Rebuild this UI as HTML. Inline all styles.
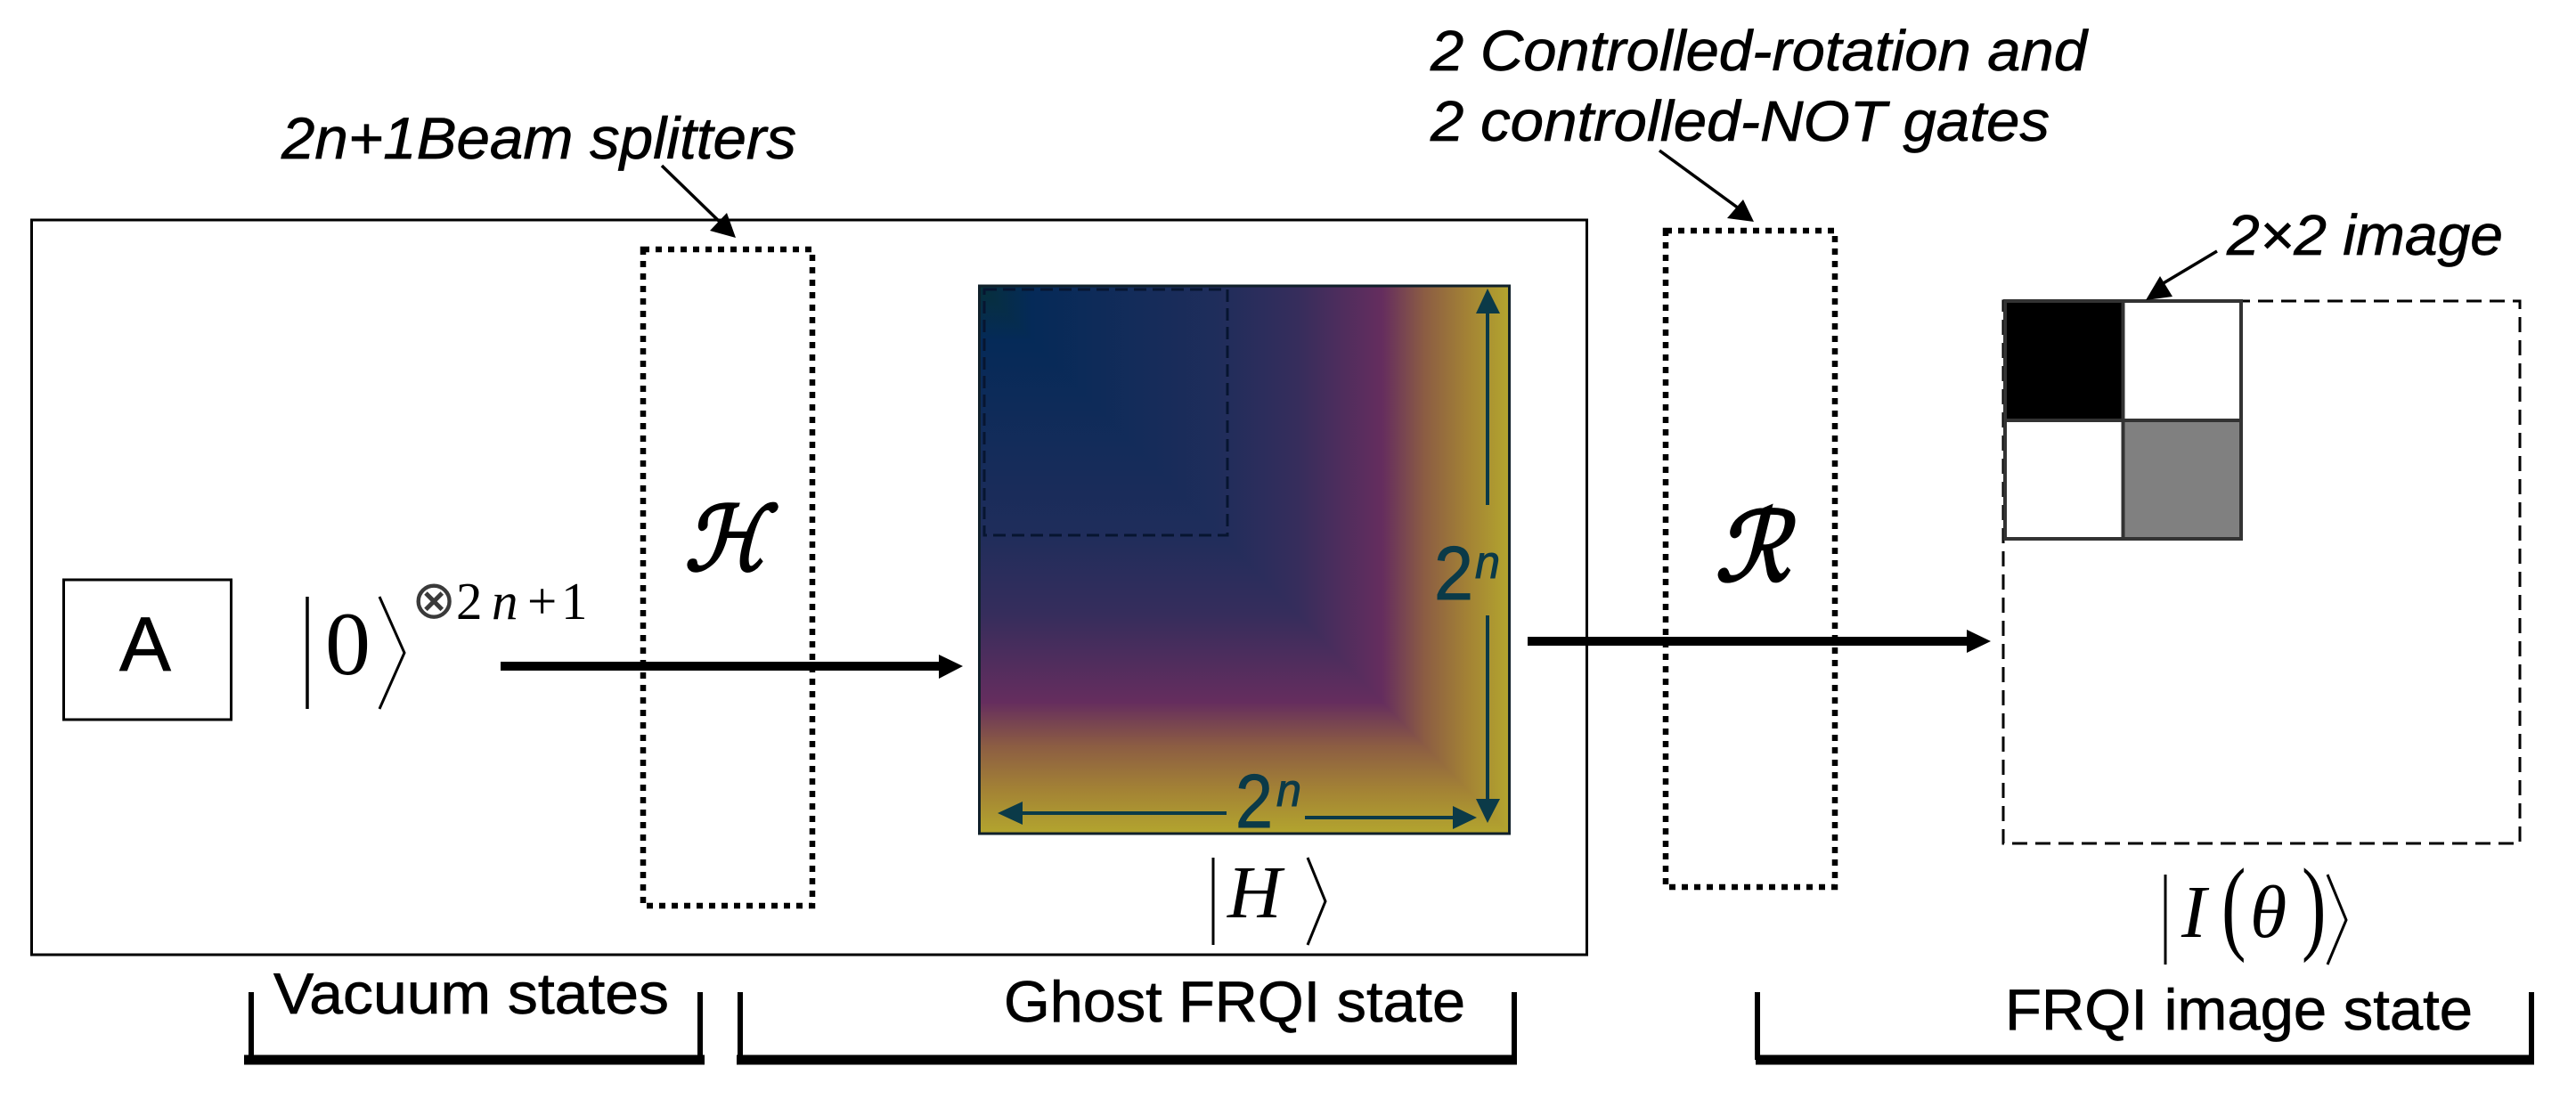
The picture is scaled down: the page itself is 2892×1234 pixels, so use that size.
<!DOCTYPE html>
<html><head><meta charset="utf-8"><style>
html,body{margin:0;padding:0;background:#fff;width:2892px;height:1234px;overflow:hidden}
svg{display:block}
.s{font-family:"Liberation Sans",sans-serif;fill:#000;stroke:#000;stroke-width:.7}
.i{font-family:"Liberation Sans",sans-serif;font-style:italic;fill:#000;stroke:#000;stroke-width:.7}
.t{font-family:"Liberation Serif",serif;fill:#000}
.g{font-family:"Liberation Sans",sans-serif;fill:#0b3a48;stroke:#0b3a48;stroke-width:1}
</style></head><body>
<svg width="2892" height="1234" viewBox="0 0 2892 1234" xmlns="http://www.w3.org/2000/svg">
<defs>
<linearGradient id="gh" x1="1099" x2="1695" y1="0" y2="0" gradientUnits="userSpaceOnUse">
<stop offset="0" stop-color="#06303a"/><stop offset=".1" stop-color="#052a58"/><stop offset=".45" stop-color="#1f2d5b"/><stop offset=".6" stop-color="#362d5c"/><stop offset=".76" stop-color="#652d5e"/><stop offset=".84" stop-color="#8c5d43"/><stop offset=".92" stop-color="#a38235"/><stop offset="1" stop-color="#b3a52e"/>
</linearGradient>
<linearGradient id="gv" x1="0" x2="0" y1="321" y2="936" gradientUnits="userSpaceOnUse">
<stop offset="0" stop-color="#06303a"/><stop offset=".1" stop-color="#052a58"/><stop offset=".45" stop-color="#1f2d5b"/><stop offset=".6" stop-color="#362d5c"/><stop offset=".76" stop-color="#652d5e"/><stop offset=".84" stop-color="#8c5d43"/><stop offset=".92" stop-color="#a38235"/><stop offset="1" stop-color="#b3a52e"/>
</linearGradient>
</defs>
<rect width="2892" height="1234" fill="#fff"/>

<!-- main box -->
<rect x="35.5" y="247" width="1746" height="825" fill="none" stroke="#000" stroke-width="3"/>

<!-- A -->
<rect x="71.5" y="651" width="188" height="157" fill="none" stroke="#000" stroke-width="3"/>
<text class="s" x="134" y="753" font-size="86" textLength="58" lengthAdjust="spacingAndGlyphs">A</text>

<!-- |0> -->
<line x1="345" y1="670" x2="345" y2="796" stroke="#000" stroke-width="3.5"/>
<polyline points="426,670 454,733 426,796" fill="none" stroke="#000" stroke-width="3"/>
<text class="t" x="365" y="757" font-size="102">0</text>
<text class="t" x="462" y="694" font-size="60" style="font-family:'DejaVu Sans',sans-serif;fill:#3a3a3a">⊗</text>
<text class="t" x="512" y="695" font-size="59">2</text>
<text class="t" x="552" y="695" font-size="59" font-style="italic">n</text>
<text class="t" x="592" y="695" font-size="59">+</text>
<text class="t" x="630" y="695" font-size="59">1</text>

<!-- H dotted box -->
<rect x="722" y="280" width="190" height="737" fill="none" stroke="#000" stroke-width="6.5" stroke-dasharray="7 7"/>
<text class="t" x="768" y="640" font-size="100" font-style="italic" font-weight="bold" textLength="92" lengthAdjust="spacingAndGlyphs">ℋ</text>

<!-- main arrows -->
<line x1="562" y1="748" x2="1058" y2="748" stroke="#000" stroke-width="10"/>
<polygon points="1081,748 1054,735 1054,762" fill="#000"/>
<line x1="1715" y1="720" x2="2212" y2="720" stroke="#000" stroke-width="10"/>
<polygon points="2235,720 2208,707 2208,733" fill="#000"/>

<!-- gradient square -->
<rect x="1099" y="321" width="596" height="615" fill="url(#gh)"/>
<polygon points="1099,321 1695,936 1099,936" fill="url(#gv)"/>
<rect x="1099.5" y="321" width="595" height="615" fill="none" stroke="#10202a" stroke-width="3"/>
<rect x="1105" y="325" width="273" height="276" fill="none" stroke="#071530" stroke-width="3" stroke-dasharray="14 7"/>

<!-- inner arrows -->
<g stroke="#0b3a48" stroke-width="4" fill="none">
<line x1="1670" y1="345" x2="1670" y2="567"/>
<line x1="1670" y1="691" x2="1670" y2="902"/>
<line x1="1145" y1="913" x2="1377" y2="913"/>
<line x1="1465" y1="918" x2="1636" y2="918"/>
</g>
<g fill="#0b3a48">
<polygon points="1670,324 1657,352 1684,352"/>
<polygon points="1670,924 1657,897 1684,897"/>
<polygon points="1120,913 1148,900 1148,926"/>
<polygon points="1658,918 1631,905 1631,931"/>
</g>
<text class="g" x="1610" y="673" font-size="85" textLength="44" lengthAdjust="spacingAndGlyphs">2</text>
<text class="g" x="1656" y="649" font-size="52" font-style="italic" textLength="28" lengthAdjust="spacingAndGlyphs">n</text>
<text class="g" x="1387" y="929" font-size="85" textLength="42" lengthAdjust="spacingAndGlyphs">2</text>
<text class="g" x="1433" y="905" font-size="52" font-style="italic" textLength="28" lengthAdjust="spacingAndGlyphs">n</text>

<!-- |H> -->
<line x1="1362" y1="963" x2="1362" y2="1061" stroke="#000" stroke-width="3"/>
<polyline points="1468,963 1488,1012 1468,1061" fill="none" stroke="#000" stroke-width="3"/>
<text class="t" x="1378" y="1030" font-size="84" font-style="italic">H</text>

<!-- labels top -->
<text class="i" x="316" y="178" font-size="66" textLength="578" lengthAdjust="spacingAndGlyphs">2n+1Beam splitters</text>
<line x1="743" y1="186" x2="812" y2="253" stroke="#000" stroke-width="3.5"/>
<polygon points="826,267 816,239 797,259" fill="#000"/>

<text class="i" x="1606" y="79" font-size="64" textLength="737" lengthAdjust="spacingAndGlyphs">2 Controlled-rotation and</text>
<text class="i" x="1606" y="158" font-size="64" textLength="695" lengthAdjust="spacingAndGlyphs">2 controlled-NOT gates</text>
<line x1="1863" y1="169" x2="1952" y2="234" stroke="#000" stroke-width="3.5"/>
<polygon points="1969,249 1957,224 1939,245" fill="#000"/>

<!-- R dotted box -->
<rect x="1870" y="259" width="190" height="737" fill="none" stroke="#000" stroke-width="6.5" stroke-dasharray="7 7"/>
<text class="t" x="1925" y="652" font-size="108" font-style="italic" font-weight="bold" textLength="84" lengthAdjust="spacingAndGlyphs">ℛ</text>

<!-- image state -->
<rect x="2249" y="338" width="580" height="609" fill="none" stroke="#000" stroke-width="3" stroke-dasharray="17 9"/>
<rect x="2249" y="338" width="134.500" height="134" fill="#000"/>
<rect x="2383.500" y="472" width="132.500" height="133" fill="#808080"/>
<rect x="2251" y="338" width="265" height="267" fill="none" stroke="#333" stroke-width="4"/>
<line x1="2383.500" y1="338" x2="2383.500" y2="605" stroke="#333" stroke-width="4"/>
<line x1="2249" y1="472" x2="2516" y2="472" stroke="#333" stroke-width="4"/>
<line x1="2489" y1="282" x2="2422" y2="322" stroke="#000" stroke-width="3.5"/>
<polygon points="2409,337 2425,310 2439,333" fill="#000"/>
<text class="i" x="2500" y="286" font-size="64" textLength="310" lengthAdjust="spacingAndGlyphs">2×2 image</text>

<!-- |I(θ)> -->
<line x1="2431" y1="982" x2="2431" y2="1083" stroke="#000" stroke-width="3"/>
<polyline points="2613,982 2634,1033 2613,1083" fill="none" stroke="#000" stroke-width="3"/>
<text class="t" x="2449" y="1052" font-size="84" font-style="italic">I</text>
<text class="t" transform="translate(2494 1056) scale(.7 1)" font-size="118">(</text>
<text class="t" x="2526" y="1052" font-size="84" font-style="italic">θ</text>
<text class="t" transform="translate(2584 1056) scale(.7 1)" font-size="118">)</text>

<!-- brackets -->
<g fill="none" stroke="#000">
<path d="M282 1114V1190M786 1114V1190M831 1114V1190M1700 1114V1190M1973 1114V1190M2842 1114V1190" stroke-width="6"/>
<path d="M274 1190H791M827 1190H1703M1971 1190H2845" stroke-width="11"/>
</g>
<text class="s" x="307" y="1138" font-size="65" textLength="444" lengthAdjust="spacingAndGlyphs">Vacuum states</text>
<text class="s" x="1127" y="1147" font-size="65" textLength="518" lengthAdjust="spacingAndGlyphs">Ghost FRQI state</text>
<text class="s" x="2251" y="1156" font-size="65" textLength="525" lengthAdjust="spacingAndGlyphs">FRQI image state</text>
</svg>
</body></html>
